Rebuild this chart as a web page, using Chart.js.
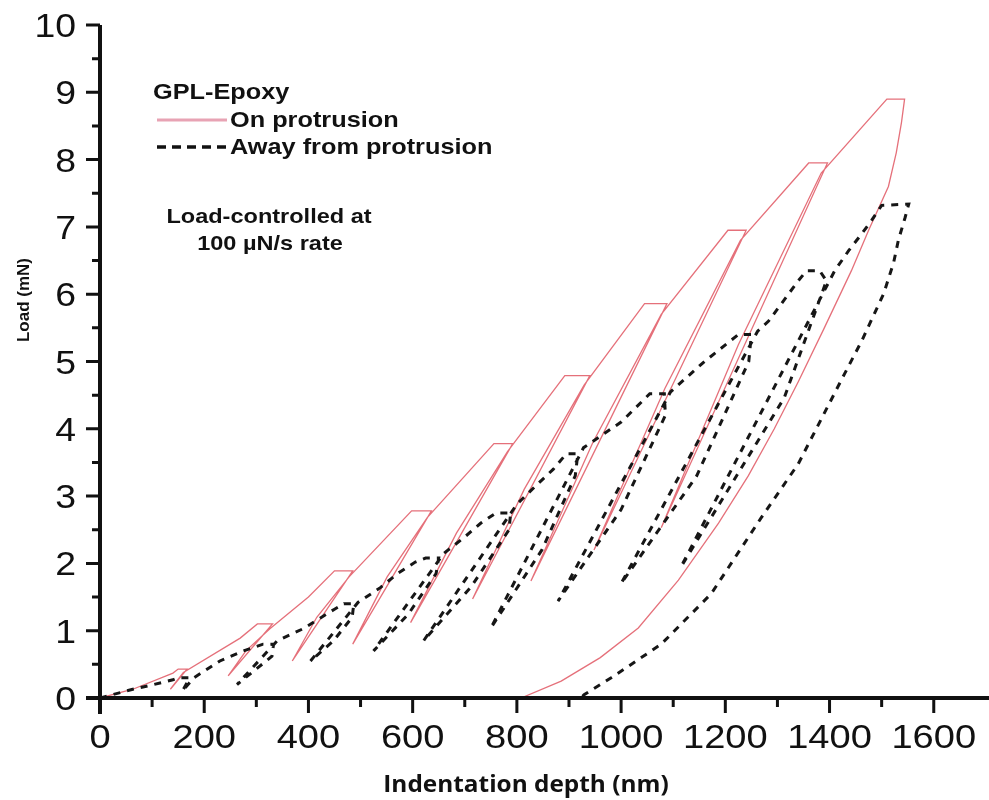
<!DOCTYPE html>
<html>
<head>
<meta charset="utf-8">
<title>GPL-Epoxy cyclic indentation</title>
<script src="https://cdn.jsdelivr.net/npm/chart.js@4.4.1/dist/chart.umd.min.js"></script>
<style>
  html, body { margin: 0; padding: 0; background: #fff; }
  #wrap { width: 989px; height: 800px; }
</style>
</head>
<body>
<div id="wrap"><canvas id="loadDepth" width="989" height="800"></canvas></div>
<script>
// depth in nm, load in mN -- one continuous load/unload path per test site
const onDepth = [0, 63, 140, 150, 167, 135, 160, 269, 302, 331,
  246, 280, 326, 400, 450, 485,
  369, 416, 478, 598, 636,
  485, 551, 628, 756, 792,
  596, 684, 782, 892, 940,
  715, 814, 929, 1045, 1088,
  827, 946, 1077, 1205, 1240,
  948, 1084, 1229, 1360, 1396,
  1077, 1225, 1384, 1510, 1544,
  1538, 1528, 1513, 1475, 1442, 1390, 1340, 1294, 1244, 1187, 1110, 1033, 960, 885, 808];
const onLoad = [0, 0.13, 0.37, 0.43, 0.43, 0.13, 0.38, 0.89, 1.1, 1.1,
  0.33, 0.7, 1.03, 1.5, 1.89, 1.89,
  0.55, 1.2, 1.8, 2.78, 2.78,
  0.8, 1.8, 2.68, 3.78, 3.78,
  1.12, 2.45, 3.66, 4.79, 4.79,
  1.47, 3.1, 4.65, 5.86, 5.86,
  1.74, 3.8, 5.7, 6.95, 6.95,
  2.2, 4.6, 6.8, 7.95, 7.95,
  2.53, 5.25, 7.8, 8.9, 8.9,
  8.55, 8.1, 7.6, 6.95, 6.35, 5.5, 4.7, 4.0, 3.3, 2.6, 1.75, 1.04, 0.6, 0.25, 0];

const awayDepth = [0, 63, 103, 140, 150, 172, 158, 180, 230, 275, 313, 333,
  330, 263, 340, 390, 423, 450, 468, 487,
  484, 448, 404, 495, 538, 571, 605, 625, 650,
  645, 592, 525, 660, 698, 731, 760, 788,
  785, 712, 621, 800, 840, 870, 895, 917,
  912, 848, 750, 928, 1000, 1055, 1083,
  1085, 1000, 879, 1095, 1160, 1225, 1250,
  1245, 1145, 1000, 1262, 1283, 1340, 1356, 1381,
  1394, 1313, 1115, 1410, 1437, 1462, 1481, 1500, 1552,
  1545, 1532, 1523, 1504, 1462, 1429, 1340, 1269, 1173, 1077, 981, 929, 923];
const awayLoad = [0, 0.13, 0.2, 0.27, 0.3, 0.3, 0.1, 0.3, 0.55, 0.7, 0.8, 0.8,
  0.62, 0.2, 0.85, 1.03, 1.19, 1.32, 1.4, 1.4,
  1.2, 0.85, 0.55, 1.42, 1.64, 1.85, 2.02, 2.08, 2.08,
  1.85, 1.25, 0.7, 2.15, 2.38, 2.6, 2.75, 2.75,
  2.5, 1.65, 0.85, 2.88, 3.18, 3.4, 3.63, 3.63,
  3.3, 2.2, 1.04, 3.72, 4.1, 4.52, 4.52,
  4.2, 2.8, 1.44, 4.55, 5.0, 5.4, 5.4,
  5.0, 3.3, 1.7, 5.45, 5.6, 6.2, 6.35, 6.35,
  6.2, 4.46, 1.95, 6.35, 6.65, 6.9, 7.1, 7.32, 7.34,
  7.14, 6.8, 6.47, 6.01, 5.31, 4.82, 3.48, 2.68, 1.55, 0.8, 0.3, 0.05, 0];

const xTicks = [0, 200, 400, 600, 800, 1000, 1200, 1400, 1600];
const xMinor = [100, 300, 500, 700, 900, 1100, 1300, 1500];
const yTicks = [0, 1, 2, 3, 4, 5, 6, 7, 8, 9, 10];
const yMinor = [0.5, 1.5, 2.5, 3.5, 4.5, 5.5, 6.5, 7.5, 8.5, 9.5];

const PINK = 'rgba(226, 96, 108, 0.9)';
const INK = '#111';

function toPoints(xs, ys) {
    return xs.map((x, i) => ({ x: x, y: ys[i] }));
}

// the figure's lettering runs a bit wider than the stock faces, so stretch it
function wideText(ctx, text, x, y, font, sx, align) {
    ctx.save();
    ctx.font = font;
    ctx.textBaseline = 'alphabetic';
    ctx.textAlign = 'left';
    const w = ctx.measureText(text).width * sx;
    let left = x;
    if (align === 'center') left = x - w / 2;
    if (align === 'right') left = x - w;
    ctx.translate(left, y);
    ctx.scale(sx, 1);
    ctx.fillStyle = INK;
    ctx.fillText(text, 0, 0);
    ctx.restore();
}

const whiteBg = {
    id: 'whiteBg',
    beforeDraw(chart) {
        const ctx = chart.ctx;
        ctx.save();
        ctx.fillStyle = '#fff';
        ctx.fillRect(0, 0, chart.width, chart.height);
        ctx.restore();
    }
};

// axes, ticks, labels and the key are drawn by hand on top of the plot
const frame = {
    id: 'frame',
    afterDraw(chart) {
        const ctx = chart.ctx;
        const xs = chart.scales.x;
        const ys = chart.scales.y;
        const x0 = xs.getPixelForValue(0);
        const y0 = ys.getPixelForValue(0);
        const yTop = ys.getPixelForValue(10);

        ctx.save();
        ctx.strokeStyle = INK;
        ctx.lineCap = 'butt';

        // axis lines
        ctx.lineWidth = 4;
        ctx.beginPath();
        ctx.moveTo(x0 - 14, y0);
        ctx.lineTo(chart.width, y0);
        ctx.moveTo(x0, yTop);
        ctx.lineTo(x0, y0 + 16);
        ctx.stroke();

        // ticks
        ctx.lineWidth = 3;
        ctx.beginPath();
        yTicks.forEach(v => {
            const p = ys.getPixelForValue(v);
            ctx.moveTo(x0 - 14, p);
            ctx.lineTo(x0, p);
        });
        yMinor.forEach(v => {
            const p = ys.getPixelForValue(v);
            ctx.moveTo(x0 - 8, p);
            ctx.lineTo(x0, p);
        });
        xTicks.forEach(v => {
            const p = xs.getPixelForValue(v);
            ctx.moveTo(p, y0);
            ctx.lineTo(p, y0 + 15);
        });
        xMinor.forEach(v => {
            const p = xs.getPixelForValue(v);
            ctx.moveTo(p, y0);
            ctx.lineTo(p, y0 + 9);
        });
        ctx.stroke();
        ctx.restore();

        const tickFont = '34px "Liberation Sans", Arial, sans-serif';
        yTicks.forEach(v => {
            wideText(ctx, String(v), 76, ys.getPixelForValue(v) + 12, tickFont, 1.1, 'right');
        });
        xTicks.forEach(v => {
            wideText(ctx, String(v), xs.getPixelForValue(v), 748, tickFont, 1.12, 'center');
        });

        // axis titles
        wideText(ctx, 'Indentation depth (nm)', 526, 792, 'bold 23px "Open Sans", sans-serif', 1.06, 'center');
        ctx.save();
        ctx.translate(29, 300);
        ctx.rotate(-Math.PI / 2);
        wideText(ctx, 'Load (mN)', 0, 0, 'bold 17px "Liberation Sans", Arial, sans-serif', 1.0, 'center');
        ctx.restore();

        // key
        const keyFont = 'bold 22px "Liberation Sans", Arial, sans-serif';
        wideText(ctx, 'GPL-Epoxy', 153, 99, keyFont, 1.15, 'left');
        wideText(ctx, 'On protrusion', 230, 127, keyFont, 1.15, 'left');
        wideText(ctx, 'Away from protrusion', 230, 154, keyFont, 1.15, 'left');
        ctx.save();
        ctx.strokeStyle = '#e8a3b4';
        ctx.lineWidth = 3;
        ctx.beginPath();
        ctx.moveTo(157, 120);
        ctx.lineTo(227, 120);
        ctx.stroke();
        ctx.strokeStyle = INK;
        ctx.lineWidth = 3.5;
        ctx.setLineDash([9, 6]);
        ctx.beginPath();
        ctx.moveTo(157, 147);
        ctx.lineTo(229, 147);
        ctx.stroke();
        ctx.restore();

        const noteFont = 'bold 21px "Liberation Sans", Arial, sans-serif';
        wideText(ctx, 'Load-controlled at', 269, 223, noteFont, 1.12, 'center');
        wideText(ctx, '100 \u00b5N/s rate', 270, 250, noteFont, 1.12, 'center');
    }
};

new Chart(document.getElementById('loadDepth'), {
    type: 'scatter',
    data: {
        datasets: [
            {
                label: 'Away from protrusion',
                data: toPoints(awayDepth, awayLoad),
                showLine: true,
                borderColor: '#161616',
                borderWidth: 3,
                borderDash: [7, 7],
                pointRadius: 0,
                tension: 0
            },
            {
                label: 'On protrusion',
                data: toPoints(onDepth, onLoad),
                showLine: true,
                borderColor: PINK,
                borderWidth: 1.3,
                pointRadius: 0,
                tension: 0
            }
        ]
    },
    options: {
        responsive: false,
        animation: false,
        layout: { padding: { left: 100, right: 0, top: 25, bottom: 102 } },
        plugins: {
            legend: { display: false },
            tooltip: { enabled: false }
        },
        scales: {
            x: { type: 'linear', min: 0, max: 1706, display: false },
            y: { type: 'linear', min: 0, max: 10, display: false }
        }
    },
    plugins: [whiteBg, frame]
});
</script>
</body>
</html>
